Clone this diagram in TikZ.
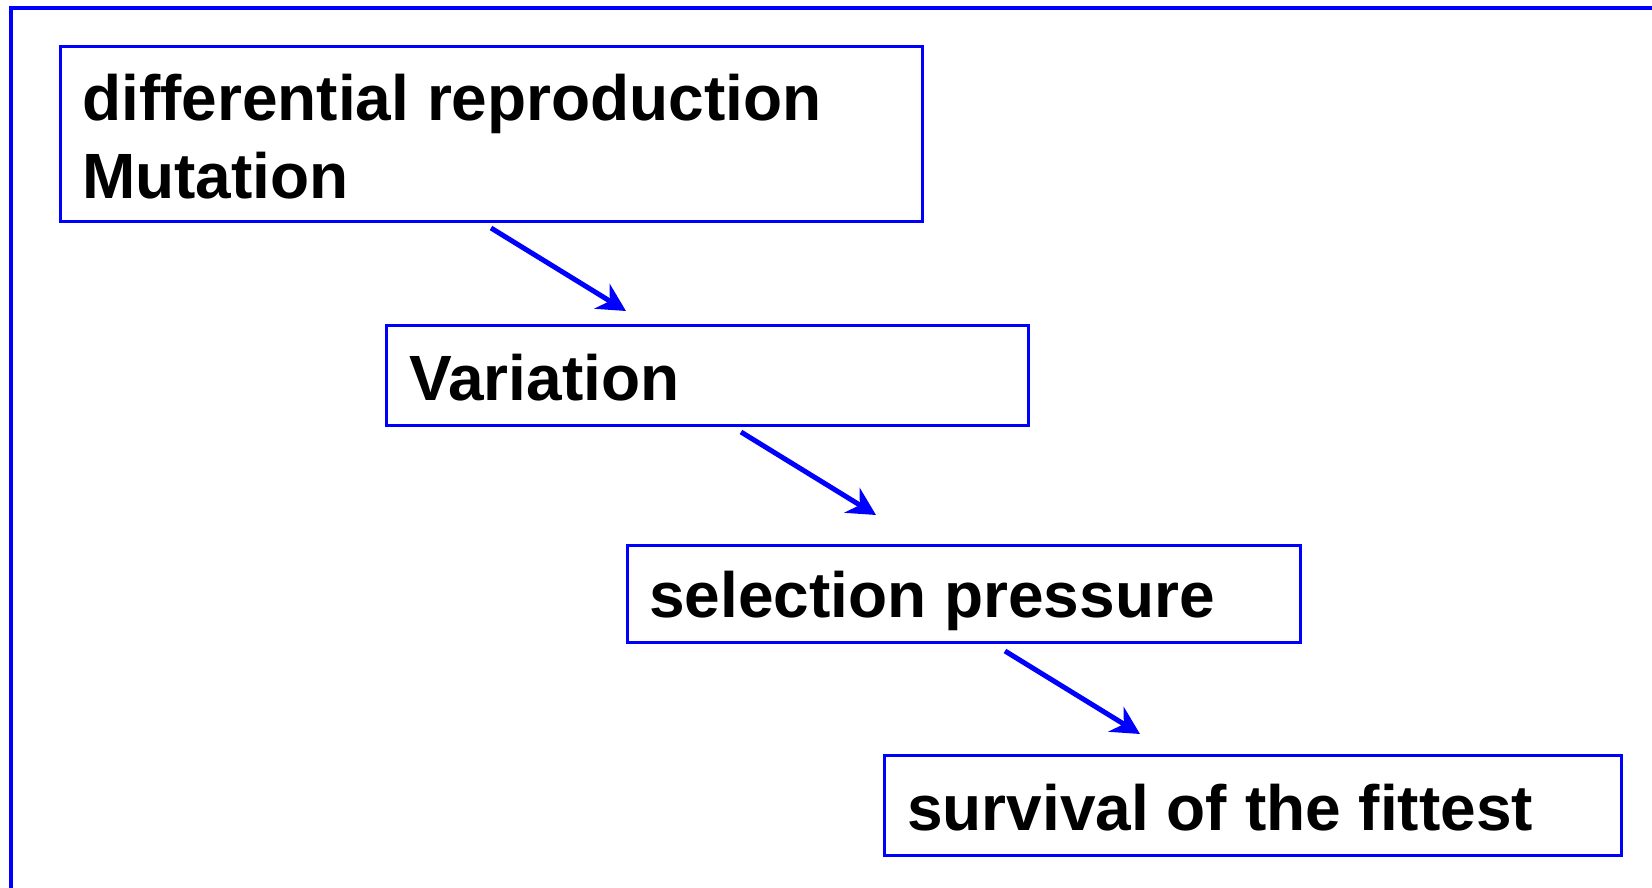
\documentclass[tikz,border=0pt]{standalone}
\usepackage{fontspec}
\setmainfont{Liberation Sans}
\usetikzlibrary{arrows.meta}
\definecolor{frameblue}{RGB}{0,0,255}
\begin{document}
\begin{tikzpicture}[x=1pt,y=-1pt,
  stagebox/.style={draw=frameblue,line width=3pt,anchor=north west,inner sep=0pt,outer sep=0pt},
  label/.style={anchor=base west,inner sep=0pt,font=\fontsize{64}{77}\selectfont\bfseries},
  flow/.style={draw=frameblue,line width=5pt,-{Stealth[length=28pt,width=29pt,inset=9pt]}}]
\useasboundingbox (0,0) rectangle (1652,888);
% page frame (open to the right and bottom)
\draw[frameblue,line width=4pt] (11,900) -- (11,8.5) -- (1700,8.5);
% stage boxes
\node[stagebox,minimum width=862pt,minimum height=175pt] (b1) at (60.5,46.5) {};
\node[stagebox,minimum width=642pt,minimum height=100pt] (b2) at (386,325) {};
\node[stagebox,minimum width=673pt,minimum height=97pt] (b3) at (627,545) {};
\node[stagebox,minimum width=737pt,minimum height=100pt] (b4) at (884,755) {};
% labels
\node[label] (t1a) at (82,121) {differential reproduction};
\node[label] (t1b) at (82,198) {Mutation};
\node[label] (t2) at (409,400) {Variation};
\node[label] (t3) at (649,617) {selection pressure};
\node[label] (t4) at (907,830) {survival of the fittest};
% arrow end points
\coordinate (s1) at (491,228); \coordinate (e1) at (626,311);
\coordinate (s2) at (741,432); \coordinate (e2) at (876,515);
\coordinate (s3) at (1005,651); \coordinate (e3) at (1140,734);
\draw[flow] (s1) -- (e1);
\draw[flow] (s2) -- (e2);
\draw[flow] (s3) -- (e3);
\end{tikzpicture}
\end{document}
